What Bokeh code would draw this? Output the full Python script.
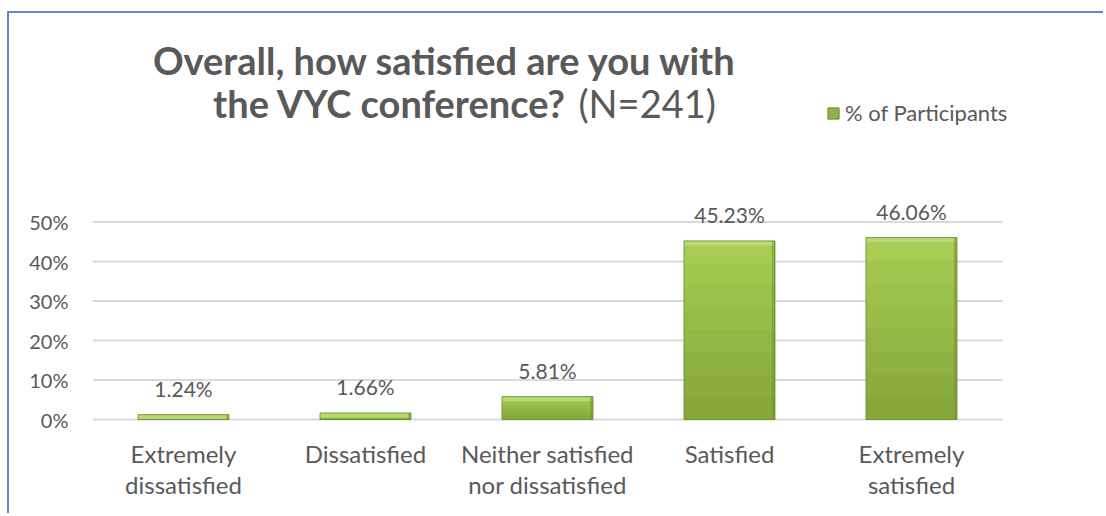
from bokeh.plotting import figure
from bokeh.models import (Range1d, FixedTicker, NumeralTickFormatter,
                          Label, Legend, LegendItem, ColumnDataSource)
from bokeh.embed import file_html
from bokeh.resources import INLINE
from bokeh.core.properties import value

categories = ["Extremely dissatisfied", "Dissatisfied", "Neither satisfied nor dissatisfied",
              "Satisfied", "Extremely satisfied"]
label_line1 = ["Extremely", "Dissatisfied", "Neither satisfied", "Satisfied", "Extremely"]
label_line2 = ["dissatisfied", "", "nor dissatisfied", "", "satisfied"]
pct_participants = [1.24, 1.66, 5.81, 45.23, 46.06]
y_ticks = [0, 0.1, 0.2, 0.3, 0.4, 0.5]
series_name = "% of Participants"

FONT = "Lato"
GRAY = "#595959"

n = len(categories)
xs = [i + 0.5 for i in range(n)]
fracs = [v / 100 for v in pct_participants]
bar_w = 0.5
bevel = 0.012
src = ColumnDataSource(dict(
    x=xs,
    top=fracs,
    bev_bottom=[f - min(f, bevel) for f in fracs],
    edge_x=[x + bar_w / 2 - 0.008 for x in xs],
    lbl=[f"{v:.2f}%" for v in pct_participants],
    l1=label_line1,
    l2=label_line2,
    zero=[0] * n,
))

p = figure(width=1096, height=502, x_range=Range1d(0, 5.566), y_range=Range1d(-0.243, 1.028),
           output_backend="svg", toolbar_location=None, x_axis_location=None,
           min_border_left=83, min_border_right=0, min_border_top=0, min_border_bottom=0)
p.outline_line_color = None
p.styles = {"margin-left": "7px", "margin-top": "11px",
            "border-left": "2px solid #5b8bc9", "border-top": "2px solid #5b8bc9"}

# gridlines at tick values across the category area
p.segment(x0=[0] * len(y_ticks), x1=[n] * len(y_ticks), y0=y_ticks, y1=y_ticks,
          line_color="#d9d9d9", line_width=2)

# bars: vertical gradient emulated with nested bars (light top -> darker bottom)
grad_top_to_bottom = ["#a6cc53", "#a0c64e", "#9bc14a", "#97bc47",
                      "#92b744", "#8eb241", "#8aad3e", "#86a83b"]
k = len(grad_top_to_bottom)
for j, col in enumerate(grad_top_to_bottom):
    p.vbar(x=xs, bottom=0, top=[f * (k - j) / k for f in fracs],
           width=bar_w, fill_color=col, line_color=None)
p.vbar(x="x", top="top", bottom="bev_bottom", width=bar_w, source=src,
       fill_color="#b9d977", line_color=None)
p.vbar(x="edge_x", top="top", bottom=0, width=0.016, source=src,
       fill_color="#6f8f33", fill_alpha=0.55, line_color=None)
p.vbar(x="x", top="top", bottom=0, width=bar_w, source=src,
       fill_alpha=0, line_color="#6f8f30", line_alpha=0.85, line_width=1)
legend_glyph = p.vbar(x=[0], top=[0], width=0, fill_color="#8fb343",
                      line_color="#6b8a2e", visible=False)

# data labels
p.text(x="x", y="top", text="lbl", source=src, y_offset=-26,
       text_align="center", text_baseline="middle",
       text_font=value(FONT), text_font_size="21px", text_color=GRAY)

# category labels
p.text(x="x", y="zero", text="l1", source=src, y_offset=34,
       text_align="center", text_baseline="middle",
       text_font=value(FONT), text_font_size="24px", text_color=GRAY)
p.text(x="x", y="zero", text="l2", source=src, y_offset=65,
       text_align="center", text_baseline="middle",
       text_font=value(FONT), text_font_size="24px", text_color=GRAY)

# y axis
p.yaxis.ticker = FixedTicker(ticks=y_ticks)
p.yaxis.formatter = NumeralTickFormatter(format="0%")
p.yaxis.axis_line_color = None
p.yaxis.major_tick_line_color = None
p.yaxis.minor_tick_line_color = None
p.yaxis.major_label_standoff = 18
p.yaxis.major_label_text_font = FONT
p.yaxis.major_label_text_font_size = "20px"
p.yaxis.major_label_text_color = GRAY

p.xgrid.grid_line_color = None
p.ygrid.grid_line_color = None

# title
p.add_layout(Label(x=1.937, y=0.911, text="Overall, how satisfied are you with",
                   text_align="center", text_baseline="middle", text_font=FONT,
                   text_font_style="bold", text_font_size="38px", text_color=GRAY))
p.add_layout(Label(x=2.604, y=0.802, text="the VYC conference?",
                   text_align="right", text_baseline="middle", text_font=FONT,
                   text_font_style="bold", text_font_size="38px", text_color=GRAY))
p.add_layout(Label(x=2.670, y=0.802, text="(N=241)",
                   text_align="left", text_baseline="middle", text_font=FONT,
                   text_font_size="38px", text_color=GRAY))

legend = Legend(items=[LegendItem(label=series_name, renderers=[legend_glyph])],
                location=(734, 389), padding=0, margin=0, border_line_color=None,
                background_fill_alpha=0, glyph_width=14, glyph_height=14,
                label_standoff=5, label_text_font=FONT, label_text_font_size="22px",
                label_text_color=GRAY)
p.add_layout(legend, "center")

open("out.html", "w").write(file_html(p, INLINE))
